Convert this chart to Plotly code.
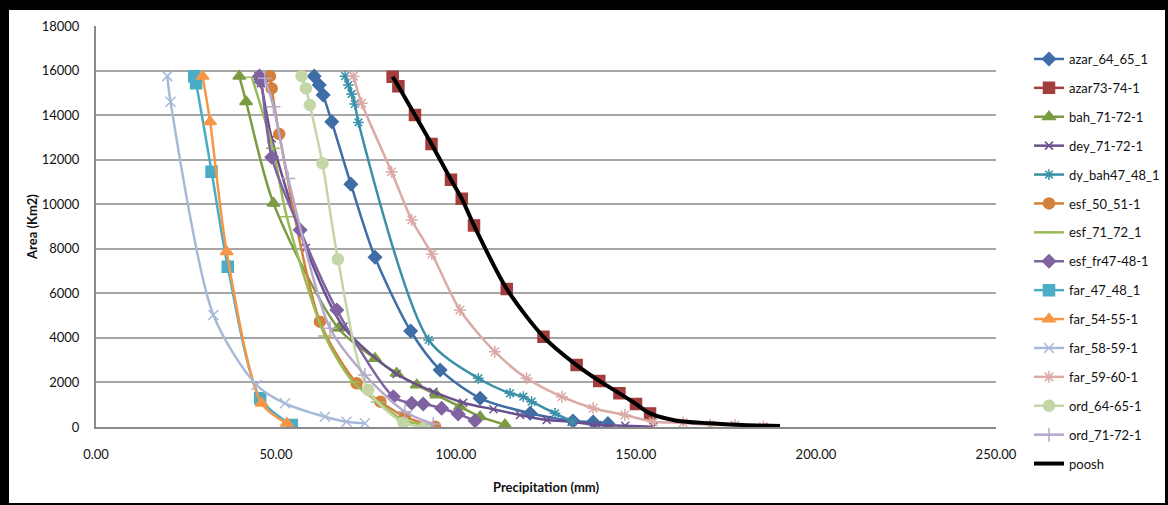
import plotly.graph_objects as go

### data (precipitation mm, area km2) ###
azar_64_x = [60.6, 62.0, 63.1, 65.5, 70.8, 77.5, 87.4, 95.6, 106.7, 120.6, 132.5, 138.1, 142.2]
azar_64_y = [15750, 15350, 14900, 13700, 10900, 7620, 4310, 2560, 1290, 615, 270, 225, 150]

azar_73_x = [82.4, 84.0, 88.6, 93.2, 98.6, 101.6, 105.0, 114.1, 124.3, 133.5, 139.8, 145.4, 150.0, 153.9]
azar_73_y = [15725, 15300, 14000, 12700, 11100, 10250, 9050, 6200, 4050, 2780, 2070, 1510, 1030, 610]

bah_x = [39.8, 41.7, 49.3, 67.3, 77.5, 83.5, 89.1, 94.6, 101.1, 106.7, 113.6]
bah_y = [15750, 14600, 10040, 4430, 3080, 2410, 1885, 1436, 911, 462, 100]

dey_x = [45.1, 45.8, 48.8, 58.3, 68.7, 83.5, 93.7, 102.0, 110.4, 117.8, 125.2, 132.1, 139.3, 147.0, 154.8]
dey_y = [15750, 15430, 12960, 8035, 4500, 2380, 1585, 1091, 794, 539, 314, 238, 90, 58, 13]

dy_bah_x = [69.2, 70.1, 71.0, 71.9, 72.9, 92.4, 106.2, 115.0, 118.7, 121.0, 127.5, 132.4]
dy_bah_y = [15750, 15350, 14950, 14500, 13670, 3905, 2186, 1513, 1360, 1136, 615, 238]

esf_50_x = [48.3, 48.8, 50.9, 62.2, 72.4, 79.0, 85.8, 94.2]
esf_50_y = [15750, 15200, 13150, 4730, 1960, 1136, 462, 13]

esf_71_x = [43.3, 49.1, 53.0, 63.6, 71.4, 78.3, 85.3, 91.9]
esf_71_y = [15700, 12510, 9440, 4085, 2020, 1122, 314, 90]

esf_fr_x = [45.4, 45.9, 48.8, 56.7, 66.9, 82.6, 87.7, 90.9, 96.0, 100.6, 105.3]
esf_fr_y = [15750, 15500, 12110, 8840, 5250, 1360, 1064, 1032, 839, 584, 283]

far_47_x = [27.3, 27.8, 32.1, 36.6, 45.6, 54.4]
far_47_y = [15750, 15430, 11460, 7196, 1288, 90]

far_54_x = [29.6, 31.7, 36.3, 46.0, 53.0]
far_54_y = [15750, 13700, 7870, 1064, 166]

far_58_x = [19.8, 20.7, 32.6, 44.6, 52.5, 63.6, 69.6, 74.7]
far_58_y = [15750, 14600, 5030, 1885, 1064, 462, 238, 166]

far_59_x = [71.5, 73.8, 82.1, 87.7, 93.3, 101.1, 110.8, 119.6, 129.4, 138.1, 146.9, 154.8, 163.1, 170.6, 177.5, 185.4]
far_59_y = [15750, 14530, 11460, 9290, 7766, 5252, 3380, 2186, 1360, 839, 539, 239, 193, 90, 90, 13]

ord_64_x = [57.1, 58.3, 59.4, 62.9, 67.2, 75.6, 85.4, 91.4]
ord_64_y = [15750, 15200, 14450, 11840, 7530, 1661, 193, 13]

ord_71_x = [46.9, 49.3, 53.4, 65.0, 74.7, 85.8, 93.7]
ord_71_y = [15650, 14380, 11160, 4430, 2334, 687, 135]

poosh_x = [82.4, 84.0, 88.6, 93.2, 98.6, 101.6, 105.0, 114.1, 124.3, 133.5, 139.8, 145.4, 150.0, 153.9, 161.3, 170.6, 179.7, 190.0]
poosh_y = [15725, 15300, 14000, 12700, 11100, 10250, 9050, 6200, 4050, 2780, 2070, 1510, 1030, 610, 283, 166, 90, 40]

x_ticks = [0, 50, 100, 150, 200, 250]
x_tick_labels = ['0.00', '50.00', '100.00', '150.00', '200.00', '250.00']
y_ticks = list(range(0, 18001, 2000))
y_tick_labels = [str(v) for v in y_ticks]

# name, x, y, colour, marker symbol, marker size
series = [
    ('azar_64_65_1', azar_64_x, azar_64_y, '#3F6DA6', 'diamond', 10),
    ('azar73-74-1', azar_73_x, azar_73_y, '#A23E3B', 'square', 11),
    ('bah_71-72-1', bah_x, bah_y, '#7B9B41', 'triangle-up', 11),
    ('dey_71-72-1', dey_x, dey_y, '#6A4F8E', 'x-thin-open', 8),
    ('dy_bah47_48_1', dy_bah_x, dy_bah_y, '#3990A8', 'asterisk-open', 9),
    ('esf_50_51-1', esf_50_x, esf_50_y, '#D2803B', 'circle', 11),
    ('esf_71_72_1', esf_71_x, esf_71_y, '#9BBB59', 'line-ew-open', 10),
    ('esf_fr47-48-1', esf_fr_x, esf_fr_y, '#7F62A0', 'diamond', 10),
    ('far_47_48_1', far_47_x, far_47_y, '#4BACC6', 'square', 11),
    ('far_54-55-1', far_54_x, far_54_y, '#F79646', 'triangle-up', 11),
    ('far_58-59-1', far_58_x, far_58_y, '#A8B9D8', 'x-thin-open', 10),
    ('far_59-60-1', far_59_x, far_59_y, '#DBA9A6', 'asterisk-open', 10),
    ('ord_64-65-1', ord_64_x, ord_64_y, '#C4D6A6', 'circle', 11),
    ('ord_71-72-1', ord_71_x, ord_71_y, '#B5A8CC', 'cross-thin-open', 10),
]

fig = go.Figure()

for name, xs, ys, color, symbol, size in series:
    fig.add_trace(go.Scatter(
        x=xs, y=ys, name=name, legendgroup=name,
        mode='lines+markers',
        line=dict(color=color, width=2.5, shape='spline', smoothing=0.8),
        marker=dict(symbol=symbol, size=size, color=color,
                    line=dict(color=color, width=1.5)),
    ))

fig.add_trace(go.Scatter(
    x=poosh_x, y=poosh_y, name='poosh', legendgroup='poosh',
    mode='lines',
    line=dict(color='black', width=4, shape='spline', smoothing=0.8),
))

# outer black frame like the source picture
W, H = 1168, 505
L, R, T, B = 96, 996, 26, 427
def px(x):
    return (x - L) / (R - L)
def py(y):
    return (B - y) / (B - T)
frame = [(0, 0, 9, H), (0, 0, W, 10), (W - 3, 0, W, H), (0, H - 2, W, H)]
shapes = [dict(type='rect', xref='paper', yref='paper',
               x0=px(a), x1=px(c), y0=py(d), y1=py(b),
               fillcolor='black', line=dict(width=0), layer='above')
          for a, b, c, d in frame]

font = 'Lato, "Open Sans", sans-serif'

fig.update_layout(
    width=W, height=H,
    margin=dict(l=L, r=W - R, t=T, b=H - B, autoexpand=False),
    paper_bgcolor='white', plot_bgcolor='white',
    font=dict(family=font, size=13, color='#111111'),
    shapes=shapes,
    showlegend=True,
    legend=dict(x=px(1029), y=py(44), xanchor='left', yanchor='top',
                font=dict(size=13, color='#111111'),
                tracegroupgap=9, maxheight=470, bgcolor='rgba(0,0,0,0)'),
    xaxis=dict(range=[0, 250], tickvals=x_ticks, ticktext=x_tick_labels,
               showgrid=False, zeroline=False, showline=True,
               linecolor='#8a8a8a', linewidth=2, ticks='',
               ticklabelstandoff=14,
               title=dict(text='<b>Precipitation (mm)</b>', font=dict(size=13),
                          standoff=22)),
    yaxis=dict(range=[0, 18000], tickvals=y_ticks, ticktext=y_tick_labels,
               showgrid=True, gridcolor='#a6a6a6', gridwidth=1.5,
               zeroline=False, showline=True, linecolor='#8a8a8a', linewidth=2,
               ticks='', ticklabelstandoff=12,
               title=dict(text='<b>Area (Km2)</b>', font=dict(size=13),
                          standoff=1)),
)

# page body has an 8px default margin; drop it so the figure sits at 0,0
fig.write_html("out.html", config={'displayModeBar': False},
               post_script="document.body.style.margin='0';document.body.style.overflow='hidden';")
